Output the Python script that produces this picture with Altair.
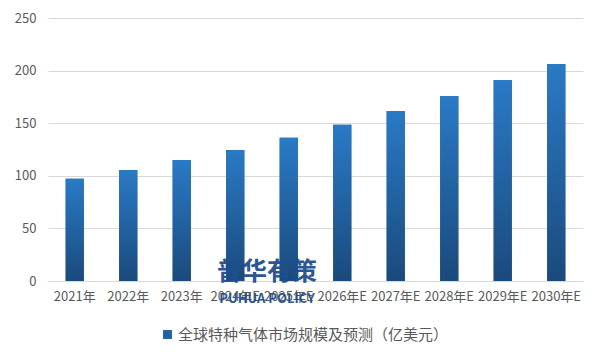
import altair as alt
import pandas as pd

years = ["2021年", "2022年", "2023年", "2024年E", "2025年E", "2026年E",
         "2027年E", "2028年E", "2029年E", "2030年E"]
values = [97.1, 105.6, 115.1, 124.6, 136.2, 148.6, 161.6, 175.8, 191.0, 206.2]
series_name = "全球特种气体市场规模及预测（亿美元）"
y_ticks = [0, 50, 100, 150, 200, 250]
watermark_cn = "普华有策"
watermark_en = "PUHUA POLICY"

df = pd.DataFrame({"year": years, "value": values, "series": [series_name] * len(years)})

FONT = "Noto Sans CJK SC"
GRAY = "#595959"

x_enc = alt.X("year:N", sort=years, title=None,
              scale=alt.Scale(paddingInner=0.66, paddingOuter=0.33),
              axis=alt.Axis(labelAngle=0, labelFontSize=13, labelColor=GRAY, labelFont=FONT,
                            ticks=False, domainColor="#D9D9D9", labelPadding=9,
                            labelOverlap=False, grid=False))
y_enc = alt.Y("value:Q", title=None,
              scale=alt.Scale(domain=[0, 250], nice=False),
              axis=alt.Axis(values=y_ticks, labelFontSize=13, labelColor=GRAY, labelFont=FONT,
                            ticks=False, domain=False, gridColor="#D9D9D9", labelPadding=12))

base = alt.Chart(df)

legend_bars = base.mark_bar().encode(
    x=x_enc, y=y_enc,
    color=alt.Color("series:N", title=None,
                    scale=alt.Scale(range=["#2461A3"]),
                    legend=alt.Legend(orient="none", legendX=112, legendY=309,
                                      symbolType="square", symbolSize=80,
                                      labelFontSize=15, labelColor=GRAY, labelFont=FONT,
                                      labelLimit=600, labelOffset=3,
                                      symbolOpacity=1, symbolStrokeWidth=0))
)

grad = alt.Gradient(
    gradient="linear", x1=0, x2=0, y1=0, y2=1,
    stops=[alt.GradientStop(color="#2A7AC6", offset=0),
           alt.GradientStop(color="#1B4A7C", offset=1)],
)
bars = base.mark_bar(color=grad).encode(x=x_enc, y=y_enc)

wm1 = alt.Chart(pd.DataFrame({"t": [watermark_cn]})).mark_text(
    font=FONT, fontSize=25, fontWeight="bold", color="#1F4F8E", opacity=0.95
).encode(text="t:N", x=alt.value(219), y=alt.value(254))
wm2 = alt.Chart(pd.DataFrame({"t": [watermark_en]})).mark_text(
    font=FONT, fontSize=13, fontWeight="bold", color="#1F4F8E", opacity=0.95
).encode(text="t:N", x=alt.value(219), y=alt.value(281))

chart = alt.layer(legend_bars, bars, wm1, wm2).properties(
    width=535, height=263,
    autosize=alt.AutoSizeParams(type="none"),
    padding={"left": 40, "top": 10, "right": 10, "bottom": 70},
    background="white",
).configure_view(stroke=None)

chart.save("out.html", embed_options={"renderer": "svg", "actions": False})
